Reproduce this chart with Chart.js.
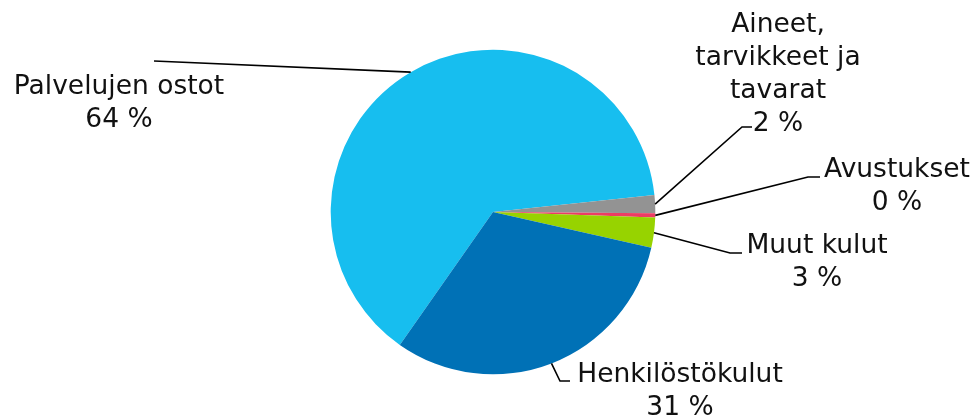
<!DOCTYPE html>
<html>
<head>
<meta charset="utf-8">
<script src="https://cdn.jsdelivr.net/npm/chart.js@4"></script>
<style>
  html, body { margin: 0; padding: 0; background: #ffffff; }
  #wrap { width: 976px; height: 420px; }
</style>
</head>
<body>
<div id="wrap"><canvas id="c" width="976" height="420"></canvas></div>
<script>
// ---- data ----
const categories = [
  'Palvelujen ostot',
  ['Aineet,', 'tarvikkeet ja', 'tavarat'],
  'Avustukset',
  'Muut kulut',
  'Henkilöstökulut'
];
const values = [63.6, 1.8, 0.4, 3.0, 31.2];

// ---- styles / layout ----
const colors = ['#17BEEF', '#939393', '#EC3C64', '#97D300', '#0071B6'];
// label anchor (center x, first baseline) and leader path points after arc edge
const labelLayout = [
  { x: 119, y: 94,  path: [[154, 61]] },
  { x: 778, y: 32,  path: [[742, 127], [752, 127]] },
  { x: 897, y: 177, path: [[808, 177], [820, 177]] },
  { x: 817, y: 253, path: [[730, 253], [742, 253]] },
  { x: 680, y: 382, path: [[560, 381], [570, 381]] }
];
const labelFont = '26.5px "DejaVu Sans", sans-serif';
const lineHeight = 33;

const labelPlugin = {
  id: 'pieLabels',
  afterDatasetsDraw(chart) {
    const ctx = chart.ctx;
    const meta = chart.getDatasetMeta(0);
    const data = chart.data.datasets[0].data;
    const total = data.reduce((a, b) => a + b, 0);
    ctx.save();
    meta.data.forEach((arc, i) => {
      const p = arc.getProps(['x', 'y', 'startAngle', 'endAngle', 'outerRadius'], true);
      const mid = (p.startAngle + p.endAngle) / 2;
      const sx = p.x + Math.cos(mid) * p.outerRadius;
      const sy = p.y + Math.sin(mid) * p.outerRadius;
      const lay = labelLayout[i];
      ctx.beginPath();
      ctx.moveTo(sx, sy);
      lay.path.forEach(pt => ctx.lineTo(pt[0], pt[1]));
      ctx.strokeStyle = '#000000';
      ctx.lineWidth = 1.6;
      ctx.stroke();

      const name = chart.data.labels[i];
      const lines = (Array.isArray(name) ? name.slice() : [name]);
      lines.push(Math.round(data[i] / total * 100) + ' %');
      ctx.fillStyle = '#111111';
      ctx.font = labelFont;
      ctx.textAlign = 'center';
      ctx.textBaseline = 'alphabetic';
      lines.forEach((t, k) => ctx.fillText(t, lay.x, lay.y + k * lineHeight));
    });
    ctx.restore();
  }
};

new Chart(document.getElementById('c'), {
  type: 'pie',
  data: {
    labels: categories,
    datasets: [{
      data: values,
      backgroundColor: colors,
      borderWidth: 0,
      hoverBorderWidth: 0,
      hoverOffset: 0
    }]
  },
  options: {
    responsive: false,
    animation: false,
    rotation: 215.04,
    layout: { padding: { left: 10, right: 0, top: 49.7, bottom: 45.7 } },
    plugins: {
      legend: { display: false },
      tooltip: { enabled: false }
    }
  },
  plugins: [labelPlugin]
});
</script>
</body>
</html>
